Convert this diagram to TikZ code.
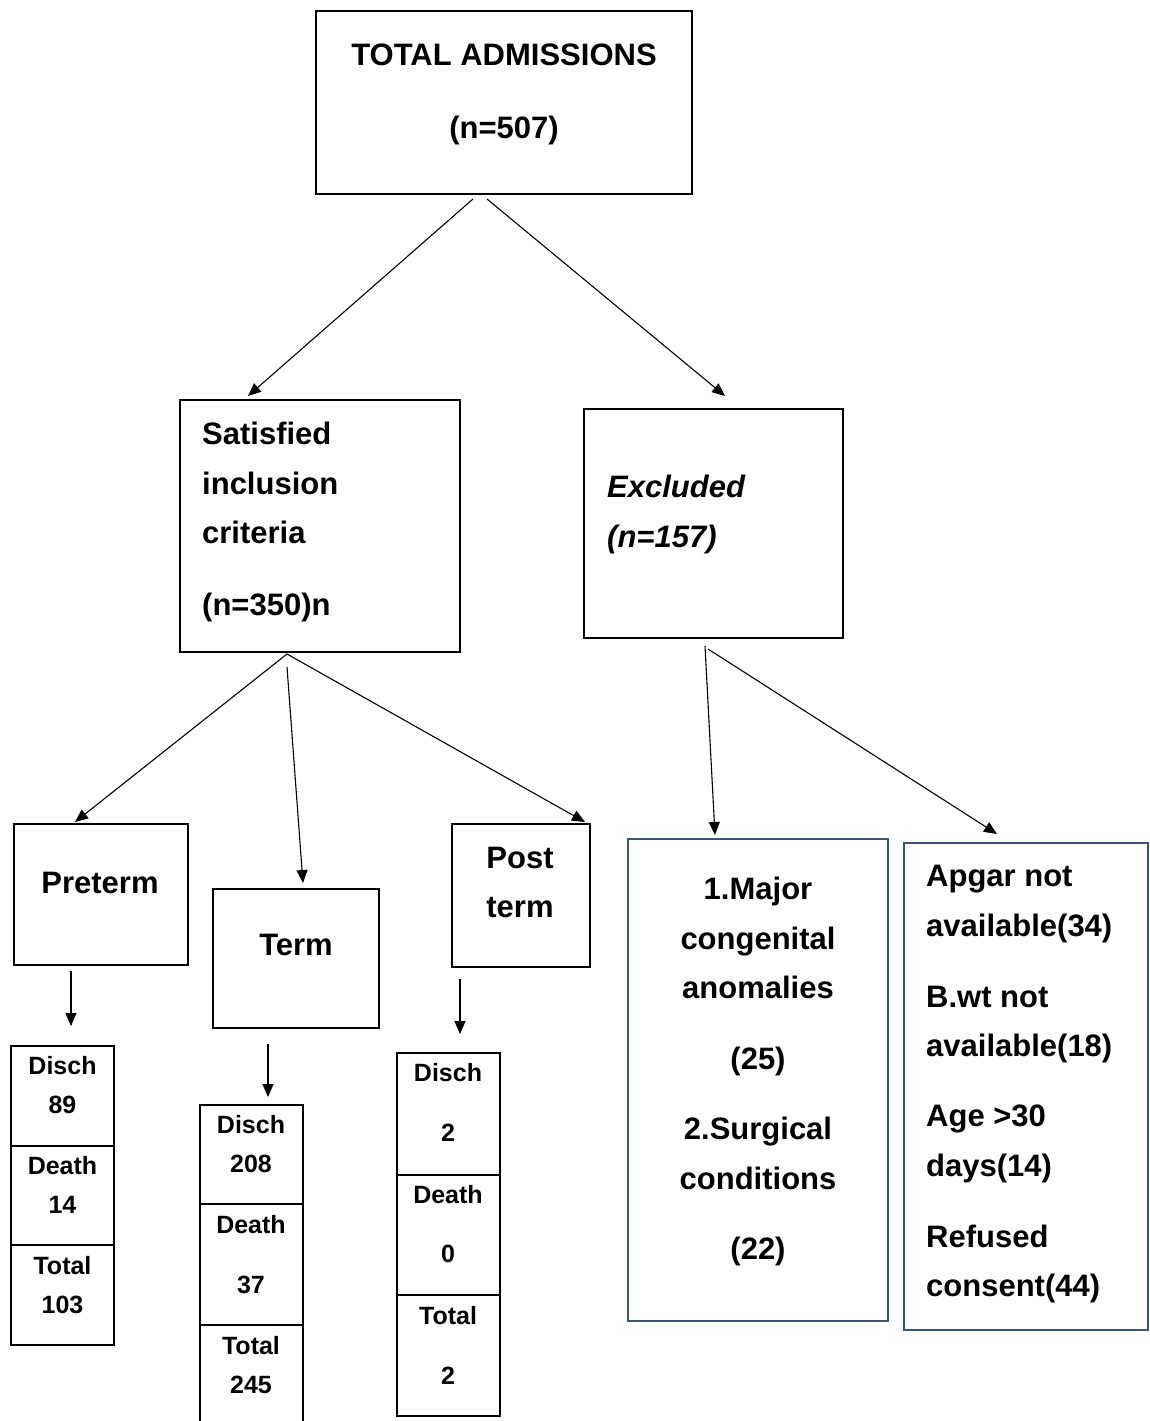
\documentclass[tikz,border=0pt]{standalone}
\usepackage{fontspec}
\setmainfont{Liberation Sans}
\usetikzlibrary{arrows.meta}
\definecolor{bluebox}{RGB}{62,84,116}
\begin{document}
\begin{tikzpicture}[x=1pt,y=-1pt,
 box/.style={draw, line width=2pt, inner sep=0pt},
 bbox/.style={draw=bluebox, line width=2pt, inner sep=0pt},
 cell/.style={draw, line width=2pt, inner sep=0pt, minimum width=103pt},
 big/.style={font=\bfseries\fontsize{31}{49.5}\selectfont, inner sep=0pt},
 small/.style={font=\bfseries\fontsize{25}{39}\selectfont, inner sep=0pt, anchor=north, align=center},
 arr/.style={-{Triangle[length=13pt,width=11pt]}, line width=1.1pt}]
\path[use as bounding box] (0,0) rectangle (1149,1421);
\clip (0,0) rectangle (1149,1421);

% main boxes
\node[box, minimum width=376pt, minimum height=183pt] (top) at (504,102.5) {};
\node[big, anchor=north, align=center] (toptext) at (504,44) {TOTAL ADMISSIONS\\[23.5pt](n=507)};

\node[box, minimum width=280pt, minimum height=252pt] (sat) at (320,526) {};
\node[big, anchor=north west, align=left] (sattext) at (202,422) {Satisfied\\inclusion\\criteria\\[22.5pt](n=350)n};

\node[box, minimum width=259pt, minimum height=229pt] (exc) at (713.5,523.5) {};
\node[big, anchor=north west, align=left, font=\bfseries\itshape\fontsize{31}{50}\selectfont] (exctext) at (607,475) {Excluded\\(n=157)};

\node[box, minimum width=174pt, minimum height=141pt] (pre) at (101,894.5) {};
\node[big, anchor=north] (pretext) at (100,872) {Preterm};

\node[box, minimum width=166pt, minimum height=139pt] (term) at (296,958.5) {};
\node[big, anchor=north] (termtext) at (296,934) {Term};

\node[box, minimum width=138pt, minimum height=143pt] (post) at (521,895.5) {};
\node[big, anchor=north, align=center, font=\bfseries\fontsize{31}{49}\selectfont] (posttext) at (520,847) {Post\\term};

\node[bbox, minimum width=260pt, minimum height=482pt] (ex1) at (758,1080) {};
\node[big, anchor=north, align=center] (ex1text) at (758,877) {1.Major\\congenital\\anomalies\\[21.5pt](25)\\[20.5pt]2.Surgical\\conditions\\[20.5pt](22)};

\node[bbox, minimum width=244pt, minimum height=487pt] (ex2) at (1026,1086.5) {};
\node[big, anchor=north west, align=left] (ex2text) at (926,865) {Apgar not\\available(34)\\[21.5pt]B.wt not\\available(18)\\[20.5pt]Age >30\\days(14)\\[21.5pt]Refused\\consent(44)};

% preterm table
\node[cell, minimum height=100pt] (p1) at (62.5,1096) {};
\node[cell, minimum height=99pt] (p2) at (62.5,1195.5) {};
\node[cell, minimum height=100pt] (p3) at (62.5,1295) {};
\node[small] (p1t) at (62.5,1056) {Disch\\89};
\node[small] (p2t) at (62.5,1156) {Death\\14};
\node[small] (p3t) at (62.5,1256) {Total\\103};

% term table
\node[cell, minimum height=99pt] (t1) at (251,1154.5) {};
\node[cell, minimum height=121pt] (t2) at (251,1264.5) {};
\node[cell, minimum height=110pt] (t3) at (251,1380) {};
\node[small] (t1t) at (251,1115) {Disch\\208};
\node[small] (t2t) at (251,1215) {Death\\[21pt]37};
\node[small] (t3t) at (251,1336) {Total\\245};

% post term table
\node[cell, minimum height=122pt] (q1) at (448,1114) {};
\node[cell, minimum height=120pt] (q2) at (448,1235) {};
\node[cell, minimum height=121pt] (q3) at (448,1355.5) {};
\node[small] (q1t) at (448,1063) {Disch\\[21pt]2};
\node[small] (q2t) at (448,1185) {Death\\[20pt]0};
\node[small] (q3t) at (448,1306) {Total\\[21pt]2};

% connectors
\draw[arr] ([shift={(-31,4)}]top.south) -- ([shift={(-72,-3)}]sat.north);
\draw[arr] ([shift={(-17,4)}]top.south) -- ([shift={(11.5,-12)}]exc.north);
\draw[arr] ([shift={(-33,1)}]sat.south) -- ([shift={(-26,-1)}]pre.north);
\draw[arr] ([shift={(-33,14)}]sat.south) -- ([shift={(7,-5)}]term.north);
\draw[arr] ([shift={(-33,1)}]sat.south) -- ([shift={(64,-1)}]post.north);
\draw[arr] ([shift={(-30,5)}]pre.south) -- ([shift={(8.5,-19)}]p1.north);
\draw[arr] ([shift={(-28,15)}]term.south) -- ([shift={(17,-7)}]t1.north);
\draw[arr] ([shift={(-61,11)}]post.south) -- ([shift={(12,-18)}]q1.north);
\draw[arr] ([shift={(-8.5,7)}]exc.south) -- ([shift={(-43,-3)}]ex1.north);
\draw[arr] ([shift={(-5.5,10)}]exc.south) -- ([shift={(-29,-8)}]ex2.north);
\end{tikzpicture}
\end{document}
